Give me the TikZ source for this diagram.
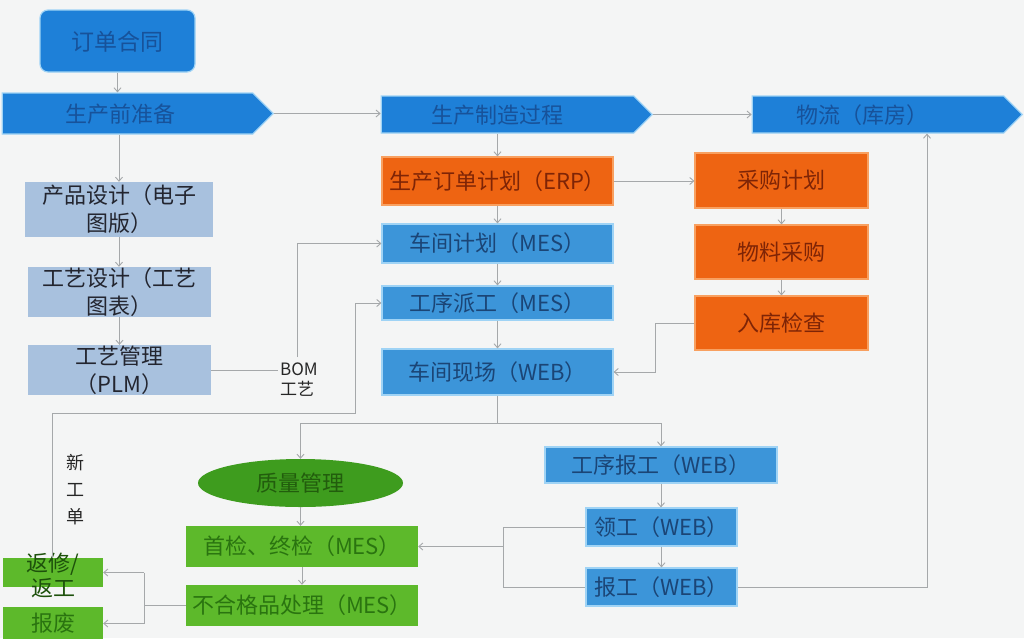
\documentclass[tikz,border=0pt]{standalone}
\usepackage{fontspec}
\setmainfont{Noto Sans CJK SC}
\usetikzlibrary{shapes.symbols,shapes.geometric,arrows.meta,calc}
\definecolor{bgc}{HTML}{F4F5F5}
\definecolor{sigblue}{HTML}{1E80D8}
\definecolor{sigtxt}{HTML}{17529A}
\definecolor{sigglow}{HTML}{9FD3F5}
\definecolor{paleblue}{HTML}{A8C1DE}
\definecolor{paletxt}{HTML}{23252F}
\definecolor{midblue}{HTML}{3C95D9}
\definecolor{midtxt}{HTML}{1B4576}
\definecolor{orangef}{HTML}{EE6412}
\definecolor{orangeb}{HTML}{F8A060}
\definecolor{orangetxt}{HTML}{7E2406}
\definecolor{dgreen}{HTML}{3E9C1E}
\definecolor{lgreen}{HTML}{5DB92B}
\definecolor{greentxt}{HTML}{2A7410}
\definecolor{linec}{HTML}{A5A8AA}
\tikzset{
  conn/.style={draw=linec, line width=0.9pt},
  arr/.style={conn, -{Straight Barb[length=4pt,width=7pt]}},
  sig/.style={signal, signal to=east, signal from=nowhere, signal pointer angle=90,
    fill=sigblue, draw=sigglow, line width=1.2pt, inner sep=0pt},
  sigtext/.style={text=sigtxt, font=\fontsize{22}{24}\selectfont},
  palebox/.style={rectangle, fill=paleblue, inner sep=0pt, text=paletxt, align=center,
    font=\fontsize{22}{28}\selectfont},
  midbox/.style={rectangle, fill=midblue, draw=sigglow, line width=1.2pt, inner sep=0pt,
    text=midtxt, font=\fontsize{22}{24}\selectfont},
  orbox/.style={rectangle, fill=orangef, draw=orangeb, line width=1.2pt, inner sep=0pt,
    text=orangetxt, font=\fontsize{22}{24}\selectfont},
  grbox/.style={rectangle, fill=lgreen, inner sep=0pt, text=greentxt, align=center,
    font=\fontsize{22}{25}\selectfont},
  lbl/.style={text=black!85, font=\fontsize{17}{20}\selectfont, align=left, inner sep=0pt}
}
\begin{document}
\begin{tikzpicture}[x=1pt,y=-1pt]
\fill[bgc] (0,0) rectangle (1024,638);
\useasboundingbox (0,0) rectangle (1024,638);

% top row
\node[rectangle, rounded corners=8pt, fill=sigblue, draw=sigglow, line width=1.2pt,
  minimum width=155pt, minimum height=62pt, inner sep=0pt] (order) at (117.5,41) {};
\node[sigtext, font=\fontsize{23}{24}\selectfont] at (117.5,42) {订单合同};

\node[sig, minimum width=271pt, minimum height=41pt] (pre) at (127.5,113.5) {};
\node[sigtext] at (120,114) {生产前准备};
\node[sig, minimum width=271pt, minimum height=37pt] (proc) at (507.5,114.5) {};
\node[sigtext] at (497,115) {生产制造过程};
\node[sig, minimum width=270pt, minimum height=37pt] (log) at (878,114.5) {};
\node[sigtext] at (862,115) {物流（库房）};

% left column
\node[palebox, minimum width=188pt, minimum height=55pt] (des1) at (119,209.5) {产品设计（电子\\图版）};
\node[palebox, minimum width=183pt, minimum height=50pt] (des2) at (119.5,292) {工艺设计（工艺\\图表）};
\node[palebox, minimum width=183pt, minimum height=50pt] (plm) at (119.5,370) {工艺管理\\（PLM）};

% middle column
\node[orbox, minimum width=231pt, minimum height=48pt] (erp) at (497.5,181) {生产订单计划（ERP）};
\node[midbox, minimum width=231pt, minimum height=39pt] (mplan) at (497.5,243.5) {车间计划（MES）};
\node[midbox, minimum width=231pt, minimum height=34pt] (disp) at (497.5,303) {工序派工（MES）};
\node[midbox, minimum width=231pt, minimum height=46pt] (site) at (497.5,372) {车间现场（WEB）};

% right orange column
\node[orbox, minimum width=173pt, minimum height=55pt] (purch) at (781.5,180.5) {采购计划};
\node[orbox, minimum width=173pt, minimum height=54pt] (buy) at (781.5,252) {物料采购};
\node[orbox, minimum width=173pt, minimum height=54pt] (insp) at (781.5,323) {入库检查};

% reporting column
\node[midbox, minimum width=232pt, minimum height=36pt] (rep1) at (661,465) {工序报工（WEB）};
\node[midbox, minimum width=151pt, minimum height=38pt] (take) at (661.5,527) {领工（WEB）};
\node[midbox, minimum width=151pt, minimum height=38pt] (rep) at (661.5,587) {报工（WEB）};

% quality
\node[ellipse, fill=dgreen, minimum width=205pt, minimum height=48pt, inner sep=0pt,
  text=greentxt!80!black, font=\fontsize{22}{24}\selectfont] (qual) at (300.5,483) {质量管理};
\node[grbox, minimum width=232pt, minimum height=41pt] (first) at (302,546.5) {首检、终检（MES）};
\node[grbox, minimum width=232pt, minimum height=41pt] (rej) at (302,605.5) {不合格品处理（MES）};
\node[grbox, minimum width=100pt, minimum height=29pt] (rework) at (53,572.5) {};
\node[text=greentxt!70!black, align=center, inner sep=0pt, font=\fontsize{22}{25}\selectfont] at (53,575) {返修/\\返工};
\node[grbox, minimum width=100pt, minimum height=33pt] (scrap) at (53,623.5) {报废};

% labels
\node[lbl, anchor=north west] (bom) at (280,363) {BOM\\工艺};
\node[lbl, align=center, font=\fontsize{18}{27}\selectfont] (xgd) at (75,490) {新\\工\\单};

% connectors
\draw[arr] (order.south) -- (order.south |- pre.north);
\draw[arr] (pre.east) -- (pre.east -| proc.west);
\draw[arr] (proc.east) -- (proc.east -| log.west);
\draw[arr] (des1.north |- pre.south) -- (des1.north);
\draw[arr] (des1.south) -- (des1.south |- des2.north);
\draw[arr] (des2.south) -- (des2.south |- plm.north);
\coordinate (b1) at (278,370);
\coordinate (b2) at (297,357);
\draw[conn] (plm.east) -- (b1);
\draw[arr] (b2) -- (b2 |- mplan.west) -- (mplan.west);
\draw[arr] (erp.north |- proc.south) -- (erp.north);
\draw[arr] (erp.south) -- (mplan.north);
\draw[arr] (mplan.south) -- (disp.north);
\draw[arr] (disp.south) -- (site.north);
\draw[arr] (erp.east) -- (erp.east -| purch.west);
\draw[arr] (purch.south) -- (buy.north);
\draw[arr] (buy.south) -- (insp.north);
\coordinate (i1) at (655,323);
\draw[arr] (insp.west) -- (i1) -- (i1 |- site.east) -- (site.east);
\coordinate (s1) at (497.5,423);
\draw[conn] (site.south) -- (s1);
\draw[arr] (s1) -| (qual.north);
\draw[arr] (s1) -| (rep1.north);
\draw[arr] (qual.south) -- (qual.south |- first.north);
\draw[arr] (first.south) -- (rej.north);
\draw[arr] (rep1.south) -- (rep1.south |- take.north);
\draw[arr] (take.south) -- (take.south |- rep.north);
\coordinate (t1) at (503,527);
\coordinate (t2) at (503,546.5);
\draw[conn] (take.west) -- (t1) |- (rep.west);
\draw[arr] (t2) -- (first.east);
\coordinate (r1) at (927,587);
\draw[arr] (rep.east) -- (r1) -- (r1 |- log.south);
\coordinate (j1) at (144,605.5);
\draw[conn] (rej.west) -- (j1);
\draw[conn] (j1) -- (144,572.5);
\draw[conn] (j1) -- (144,623.5);
\draw[arr] (144,572.5) -- (rework.east);
\draw[arr] (144,623.5) -- (scrap.east);
\coordinate (n1) at (52,413);
\coordinate (n2) at (355,413);
\draw[arr] (rework.north -| n1) -- (n1) -- (n2) -- (n2 |- disp.west) -- (disp.west);
\end{tikzpicture}
\end{document}
